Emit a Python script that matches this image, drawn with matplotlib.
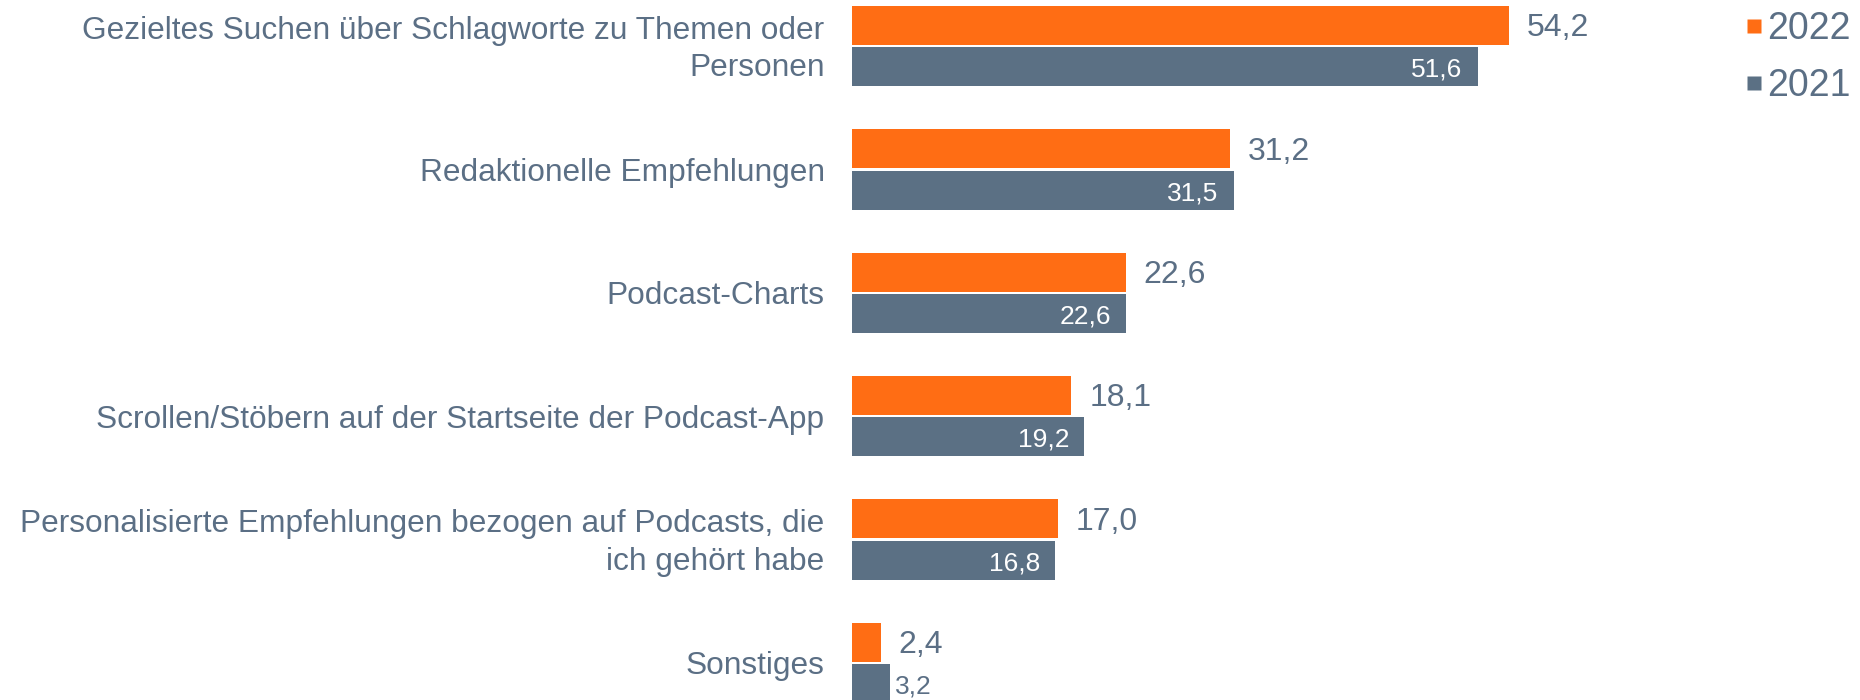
import matplotlib
matplotlib.use("Agg")
import matplotlib.pyplot as plt
from matplotlib.lines import Line2D

plt.rcParams['font.family'] = ['Liberation Sans', 'DejaVu Sans']

categories = [
    "Gezieltes Suchen über Schlagworte zu Themen oder\nPersonen",
    "Redaktionelle Empfehlungen",
    "Podcast-Charts",
    "Scrollen/Stöbern auf der Startseite der Podcast-App",
    "Personalisierte Empfehlungen bezogen auf Podcasts, die\nich gehört habe",
    "Sonstiges",
]
values_2022 = [54.2, 31.2, 22.6, 18.1, 17.0, 2.4]
values_2021 = [51.6, 31.5, 22.6, 19.2, 16.8, 3.2]
series_labels = ["2022", "2021"]

ORANGE = "#FF6D14"
SLATE = "#5B7084"
TEXT = "#5B6F85"

W, H = 1860, 700
fig = plt.figure(figsize=(W / 100, H / 100), dpi=100)
ax = fig.add_axes([0, 0, 1, 1])

# layout in pixels
x0 = 851.6          # bar baseline
ppu = 12.13         # pixels per percentage point
step = 123.3        # group spacing
bar_h = 39.0
top0 = 6.0
gap = 2.4

ax.set_xlim(-x0 / ppu, (W - x0) / ppu)
ax.set_ylim(H, 0)
ax.axis("off")

pt = 0.72  # points per pixel at 100 dpi
dy = -3.0 * pt  # labels sit slightly below the geometric centre

for i, (cat, v22, v21) in enumerate(zip(categories, values_2022, values_2021)):
    y22 = top0 + i * step + bar_h / 2
    y21 = y22 + bar_h + gap
    ax.barh(y22, v22, height=bar_h, color=ORANGE, edgecolor="none")
    ax.barh(y21, v21, height=bar_h, color=SLATE, edgecolor="none")

    # value of 2022 outside the bar
    ax.annotate(f"{v22:.1f}".replace(".", ","), xy=(v22, y22),
                xytext=(18 * pt, dy), textcoords="offset points",
                ha="left", va="center", fontsize=23, color=TEXT)
    # value of 2021 inside the bar, or just beyond it when too short
    lab21 = f"{v21:.1f}".replace(".", ",")
    if v21 > 8:
        ax.annotate(lab21, xy=(v21, y21), xytext=(-15 * pt, dy),
                    textcoords="offset points", ha="right", va="center",
                    fontsize=19, color="white")
    else:
        ax.annotate(lab21, xy=(v21, y21), xytext=(5 * pt, dy),
                    textcoords="offset points", ha="left", va="center",
                    fontsize=19, color=TEXT)

    yc = (y22 + y21) / 2
    ax.annotate(cat, xy=(0, yc), xytext=(-27 * pt, -3.5 * pt),
                textcoords="offset points", ha="right", va="center",
                multialignment="right", fontsize=22.8, color=TEXT,
                linespacing=1.33)

handles = [
    Line2D([], [], marker="s", linestyle="none", markersize=10,
           markerfacecolor=ORANGE, markeredgecolor="none"),
    Line2D([], [], marker="s", linestyle="none", markersize=10,
           markerfacecolor=SLATE, markeredgecolor="none"),
]
leg = fig.legend(handles, series_labels, loc="upper left",
                 bbox_to_anchor=(1746 / W, 1 - 11 / H), frameon=False,
                 fontsize=27, handlelength=0.45, handletextpad=0.12,
                 labelspacing=0.55, borderpad=0, borderaxespad=0)
for t in leg.get_texts():
    t.set_color(TEXT)

fig.savefig("out.png", dpi=100)
